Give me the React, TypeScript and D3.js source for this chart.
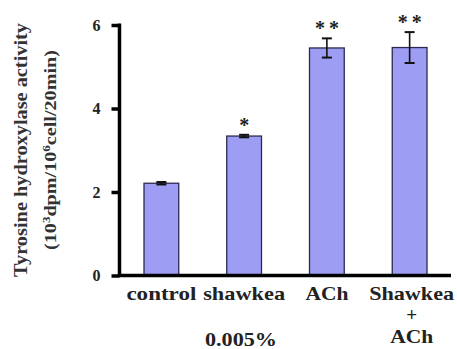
import React, { useEffect, useRef } from 'react';
import * as d3 from 'd3';

const categories = ['control', 'shawkea', 'ACh', 'Shawkea+ACh'];
const values = [2.21, 3.34, 5.45, 5.46];
const errors = [0.03, 0.03, 0.23, 0.37];
const stars = ['', '*', '**', '**'];
const yTicks = [0, 2, 4, 6];

const width = 457;
const height = 349;

export default function App() {
  const ref = useRef<SVGSVGElement>(null);

  useEffect(() => {
    const svg = d3.select(ref.current);
    svg.selectAll('*').remove();
    const font = '"Liberation Serif", "Times New Roman", serif';

    const x = d3.scaleBand().domain(categories).range([120, 451]).paddingInner(0.58).paddingOuter(0.29);
    const y = d3.scaleLinear().domain([0, 6]).range([275.5, 25]);

    const g = svg.append('g');

    // bars
    g.selectAll('rect.bar')
      .data(values)
      .enter()
      .append('rect')
      .attr('class', 'bar')
      .attr('x', (d, i) => x(categories[i])!)
      .attr('y', d => y(d))
      .attr('width', x.bandwidth())
      .attr('height', d => y(0) - y(d))
      .style('fill', '#9d9df4')
      .style('stroke', '#2a2a50')
      .style('stroke-width', 1.3);

    // error bars + significance stars
    values.forEach((v, i) => {
      const cx = x(categories[i])! + x.bandwidth() / 2;
      const e = errors[i];
      g.append('line')
        .attr('x1', cx).attr('x2', cx)
        .attr('y1', y(v + e)).attr('y2', y(v - e))
        .style('stroke', '#111').style('stroke-width', 1.6);
      [v + e, v - e].forEach(t => {
        g.append('line')
          .attr('x1', cx - 5).attr('x2', cx + 5)
          .attr('y1', y(t)).attr('y2', y(t))
          .style('stroke', '#111').style('stroke-width', 2);
      });
      if (stars[i]) {
        g.append('text')
          .attr('x', cx + (stars[i].length > 1 ? 2 : 0))
          .attr('y', y(v + e) - 3)
          .attr('text-anchor', 'middle')
          .style('font-family', font)
          .style('font-weight', 'bold')
          .style('font-size', '20px')
          .style('letter-spacing', stars[i].length > 1 ? '4px' : '0px')
          .style('fill', '#222')
          .text(stars[i]);
      }
    });

    // y axis
    const yAxis = g.append('g')
      .attr('transform', 'translate(119.5,0)')
      .call(d3.axisLeft(y).tickValues(yTicks).tickSize(8).tickPadding(11).tickFormat(d3.format('d')));
    yAxis.select('.domain').style('stroke', '#000').style('stroke-width', 3.5).attr('d', `M0,${y(6) - 1.5}V${y(0) + 1.5}`);
    yAxis.selectAll('.tick line').style('stroke', '#000').style('stroke-width', 3.5);
    yAxis.selectAll('.tick text')
      .style('font-family', font)
      .style('font-weight', 'bold')
      .style('font-size', '16px')
      .style('fill', '#222');

    // x axis line
    g.append('line')
      .attr('x1', 117.75).attr('x2', 451)
      .attr('y1', y(0)).attr('y2', y(0))
      .style('stroke', '#000').style('stroke-width', 3.5);

    // x labels
    const label = (px: number, py: number, t: string, len?: number, size = 19) => {
      const s = g.append('text')
        .attr('x', px).attr('y', py)
        .attr('text-anchor', 'middle')
        .style('font-family', font)
        .style('font-weight', 'bold')
        .style('font-size', `${size}px`)
        .style('fill', '#222')
        .text(t);
      if (len) s.attr('textLength', len).attr('lengthAdjust', 'spacingAndGlyphs');
      return s;
    };

    const labelLen: Record<string, number> = { control: 70, shawkea: 82, ACh: 43, Shawkea: 85 };
    categories.forEach(c => {
      const cx = x(c)! + x.bandwidth() / 2;
      const parts = c.split('+');
      if (parts.length === 1) {
        label(cx, 300, c, labelLen[c]);
      } else {
        label(cx + 2, 300, parts[0], labelLen[parts[0]]);
        label(cx + 2, 321, '+', undefined, 19);
        label(cx + 2, 343, parts[1], labelLen[parts[1]]);
      }
    });

    label(241, 346, '0.005%', 72);

    // y label
    g.append('text')
      .attr('transform', 'translate(27,150) rotate(-90)')
      .attr('text-anchor', 'middle')
      .attr('textLength', 254)
      .attr('lengthAdjust', 'spacingAndGlyphs')
      .style('font-family', font)
      .style('font-weight', 'bold')
      .style('font-size', '18px')
      .style('fill', '#333')
      .text('Tyrosine hydroxylase activity');

    const yl2 = g.append('text')
      .attr('transform', 'translate(56,150) rotate(-90)')
      .attr('text-anchor', 'middle')
      .attr('textLength', 200)
      .attr('lengthAdjust', 'spacingAndGlyphs')
      .style('font-family', font)
      .style('font-weight', 'bold')
      .style('font-size', '17px')
      .style('fill', '#333');
    yl2.append('tspan').text('(10');
    yl2.append('tspan').attr('dy', -6).style('font-size', '11px').text('3');
    yl2.append('tspan').attr('dy', 6).text('dpm/10');
    yl2.append('tspan').attr('dy', -6).style('font-size', '11px').text('6');
    yl2.append('tspan').attr('dy', 6).text('cell/20min)');
  }, []);

  return <svg ref={ref} width={width} height={height} style={{ position: 'absolute', left: 0, top: 0, background: '#fff' }} />;
}
